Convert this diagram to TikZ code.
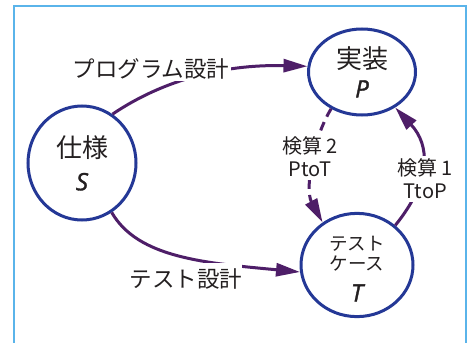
\documentclass[tikz,border=0pt]{standalone}
\usepackage{fontspec}
\setmainfont{Noto Sans CJK JP}
\newfontfamily\latit{Open Sans}[ItalicFeatures={RawFeature={embolden=1.5}}]
\usetikzlibrary{shapes.geometric,arrows.meta}
\definecolor{edgecol}{RGB}{78,30,104}
\definecolor{nodecol}{RGB}{36,56,150}
\definecolor{framecol}{RGB}{90,180,234}
\definecolor{txtcol}{RGB}{35,31,32}
\begin{document}
\begin{tikzpicture}[x=1pt,y=-1pt,
  state/.style={ellipse, draw=nodecol, line width=3pt, inner sep=0pt, align=center, text=txtcol},
  flow/.style={draw=edgecol, line width=3pt, -{Triangle[length=24pt,width=13pt]}},
  lbl/.style={fill=white, inner sep=2pt, text=txtcol, font=\fontsize{22.5}{25}\selectfont},
  chk/.style={fill=white, inner sep=3pt, align=center, text=txtcol, font=\fontsize{20}{23}\selectfont}]
\useasboundingbox (0,0) rectangle (470,342);
\fill[white] (0,0) rectangle (470,342);
\draw[framecol, line width=1.7pt] (14,6) rectangle (466,360);

\node[state, minimum width=108pt, minimum height=114pt, font=\fontsize{26}{33}\selectfont] (S) at (82,163)
  {仕様\\\fontsize{24}{33}\selectfont\latit\itshape S};
\node[state, minimum width=107pt, minimum height=86pt, font=\fontsize{26}{29}\selectfont] (P) at (362,72)
  {実装\\\fontsize{24}{29}\selectfont\latit\itshape P};
\node[state, minimum width=112pt, minimum height=101pt, font=\fontsize{18.5}{20}\selectfont] (T) at (357,265)
  {\rule{0pt}{22pt}テスト\\ケース\\[11pt]\fontsize{24}{20}\selectfont\latit\itshape T};

\draw[flow] (S.58) .. controls (160,82) and (220,64) .. (P.174);
\node[lbl] (lp) at (151,69) {プログラム設計};

\draw[flow] (S.-59) .. controls (138,258) and (205,263) .. (T.187);
\node[lbl, inner ysep=6pt, inner xsep=0pt] (lt) at (186,279) {テスト設計};

\draw[flow, dash pattern=on 9pt off 6pt] (P.230) .. controls (312,140) and (305,190) .. (T.129);
\node[chk] (c2) at (310,157) {検算 2\\PtoT};

\draw[flow] (T.46) .. controls (432,180) and (430,145) .. (P.313);
\node[chk] (c1) at (425,179) {検算 1\\TtoP};
\end{tikzpicture}
\end{document}
